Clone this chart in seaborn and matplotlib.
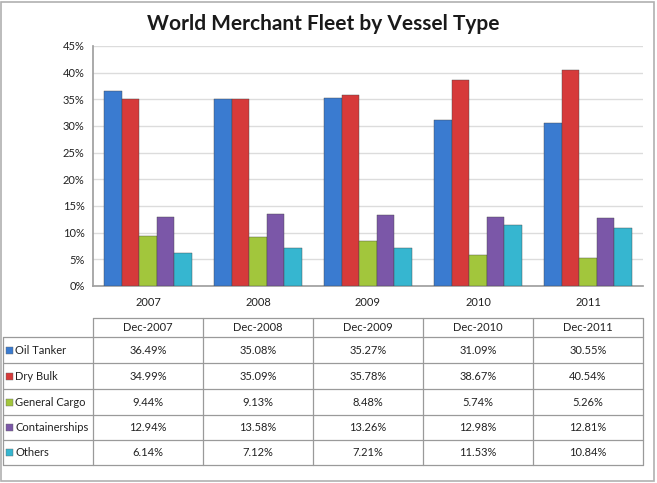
import numpy as np
import pandas as pd
import seaborn as sns
import matplotlib.pyplot as plt
from matplotlib.patches import Rectangle
from matplotlib.lines import Line2D

years = ['2007', '2008', '2009', '2010', '2011']
periods = ['Dec-2007', 'Dec-2008', 'Dec-2009', 'Dec-2010', 'Dec-2011']
vessel_types = ['Oil Tanker', 'Dry Bulk', 'General Cargo', 'Containerships', 'Others']
oil_tanker = [36.49, 35.08, 35.27, 31.09, 30.55]
dry_bulk = [34.99, 35.09, 35.78, 38.67, 40.54]
general_cargo = [9.44, 9.13, 8.48, 5.74, 5.26]
containerships = [12.94, 13.58, 13.26, 12.98, 12.81]
others = [6.14, 7.12, 7.21, 11.53, 10.84]

colors = ['#3a7bd0', '#d63a3a', '#a2c63c', '#7b57a8', '#36b6d0']

series = [oil_tanker, dry_bulk, general_cargo, containerships, others]
rows = []
for name, vals in zip(vessel_types, series):
    for yr, v in zip(years, vals):
        rows.append({'Year': yr, 'Type': name, 'Share': v})
df = pd.DataFrame(rows)

sns.set_theme(style='white')
plt.rcParams['font.family'] = ['Lato', 'DejaVu Sans']

fig = plt.figure(figsize=(6.57, 4.83), dpi=100)
W, H = 657, 483

def fx(px):
    return px / W

def fy(py):
    return 1 - py / H

# plot area
ax = fig.add_axes([fx(93), fy(286), fx(643) - fx(93), fy(46) - fy(286)])
sns.barplot(data=df, x='Year', y='Share', hue='Type', hue_order=vessel_types,
            order=years, palette=colors, saturation=1, width=0.8, gap=0, ax=ax,
            edgecolor='#444444', linewidth=0.3, legend=False, zorder=3)
ax.set_ylim(0, 45)
ax.set_yticks(np.arange(0, 46, 5))
ax.set_yticklabels([f'{t}%' for t in range(0, 46, 5)], fontsize=8, color='#222222')
ax.set_xticklabels(years, fontsize=8, color='#222222')
ax.tick_params(axis='x', length=0, pad=8)
ax.tick_params(axis='y', length=0, pad=6)
ax.yaxis.grid(True, color='#dcdcdc', linewidth=1, zorder=0)
ax.set_axisbelow(True)
ax.set_xlabel('')
ax.set_ylabel('')
for s in ['top', 'right']:
    ax.spines[s].set_visible(False)
ax.spines['left'].set_color('#a0a0a0')
ax.spines['bottom'].set_color('#a0a0a0')

fig.text(fx(323), fy(24), 'World Merchant Fleet by Vessel Type', ha='center',
         va='center', fontsize=15, fontweight='bold', color='#1a1a1a')

# data table below the plot
line_kw = dict(color='#9a9a9a', linewidth=0.9, transform=fig.transFigure)
col_edges = [93 + 110 * i for i in range(6)]
row_edges = [337, 363, 389, 415, 440, 465]
# header
fig.add_artist(Line2D([fx(93), fx(643)], [fy(318), fy(318)], **line_kw))
for x in col_edges:
    fig.add_artist(Line2D([fx(x), fx(x)], [fy(318), fy(465)], **line_kw))
fig.add_artist(Line2D([fx(3), fx(3)], [fy(337), fy(465)], **line_kw))
for y in row_edges:
    fig.add_artist(Line2D([fx(3), fx(643)], [fy(y), fy(y)], **line_kw))

for i, p in enumerate(periods):
    cx = (col_edges[i] + col_edges[i + 1]) / 2
    fig.text(fx(cx), fy(327.5), p, ha='center', va='center', fontsize=8, color='#222222')

for r, (name, vals, c) in enumerate(zip(vessel_types, series, colors)):
    cy = (row_edges[r] + row_edges[r + 1]) / 2
    fig.add_artist(Rectangle((fx(6), fy(cy + 3.5)), fx(7), fy(0) - fy(7),
                             transform=fig.transFigure, facecolor=c,
                             edgecolor='#666666', linewidth=0.3))
    fig.text(fx(15), fy(cy), name, ha='left', va='center', fontsize=8, color='#222222')
    for i, v in enumerate(vals):
        cx = (col_edges[i] + col_edges[i + 1]) / 2
        fig.text(fx(cx), fy(cy), f'{v:.2f}%', ha='center', va='center',
                 fontsize=8, color='#222222')

# outer frame
fig.add_artist(Rectangle((fx(1), fy(481)), fx(653), fy(0) - fy(479),
                         transform=fig.transFigure, fill=False,
                         edgecolor='#b0b0b0', linewidth=1.2))

fig.savefig('out.png', dpi=100)
